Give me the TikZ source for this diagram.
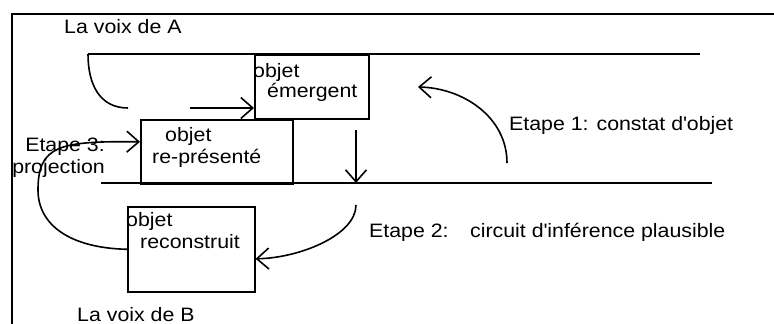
\documentclass[tikz,border=0pt]{standalone}
\usepackage{fontspec}
\setmainfont[FakeStretch=1.1]{Liberation Sans}
\usetikzlibrary{arrows.meta,calc}
\begin{document}
\begin{tikzpicture}[x=1pt,y=-1pt,
  ln/.style={line width=1.6pt},
  frame/.style={line width=2.6pt},
  box/.style={draw, line width=1.6pt, inner sep=0pt, anchor=north west},
  txt/.style={anchor=base west, inner sep=0pt, font=\fontsize{19.4}{22}\selectfont},
  txtr/.style={anchor=base east, inner sep=0pt, font=\fontsize{19.4}{22}\selectfont},
  arr/.style={ln, -{Straight Barb[length=12pt,width=21pt,line width=1.6pt]}}
]
\useasboundingbox (0,0) rectangle (774,324);
% frame
\coordinate (fTL) at (12,14);
\coordinate (fTR) at (774,14);
\coordinate (fBL) at (12,324);
\draw[frame] (fTR) -- (fTL) -- (fBL);
% lines
\coordinate (upL) at (88,54);
\coordinate (upR) at (700,54);
\coordinate (loL) at (101,183);
\coordinate (loR) at (712,183);
\draw[ln] (upL) -- (upR);
\draw[ln] (loL) -- (loR);
% boxes
\node[box, minimum width=114pt, minimum height=64pt] (em) at (254,54) {};
\node[box, minimum width=152pt, minimum height=64pt] (rep) at (140,119) {};
\node[box, minimum width=127pt, minimum height=85pt] (rec) at (127,206) {};
% texts
\node[txt] (voixA) at (64,34) {La voix de A};
\node[txt] (emA) at (253,77) {objet};
\node[txt] (emB) at (267,97.5) {émergent};
\node[txt] (repA) at (165,141.5) {objet};
\node[txt] (repB) at (152,163) {re-présenté};
\node[txt] (recA) at (126,226.5) {objet};
\node[txt] (recB) at (140,248) {reconstruit};
\node[txtr] (e3A) at (105,151.5) {Etape 3:};
\node[txtr] (e3B) at (105,173) {projection};
\node[txt] (e1) at (509,130.5) {Etape 1: constat d\textquotesingle objet};
\node[txt] (e2) at (369,237.5) {\makebox[101pt][l]{Etape 2:}circuit d\textquotesingle inférence plausible};
\node[txt] (voixB) at (77,321) {La voix de B};
% connectors
\coordinate (arcEnd) at (128,108);
\draw[ln] (upL) .. controls (88,85) and (100,108) .. (arcEnd);
\coordinate (a1s) at (190,108);
\draw[arr] (a1s) -- (em.west |- a1s);
\coordinate (dS) at (356,130);
\draw[arr] (dS) -- (dS |- loL);
\coordinate (e1s) at (507,163);
\coordinate (e1e) at (418,87);
\draw[arr] (e1s) .. controls (507,117) and (463,88) .. (e1e);
\coordinate (e3m) at (38,190);
\draw[arr] (rec.west) .. controls (70,248) and (38,225) .. (e3m) .. controls (38,145) and (60,141) .. ($(rep.west)+(0,-10)$);
\coordinate (e2s) at (356,205);
\draw[arr] (e2s) .. controls (356,235) and (300,258) .. ($(rec.east)+(0,9.5)$);
\end{tikzpicture}
\end{document}
